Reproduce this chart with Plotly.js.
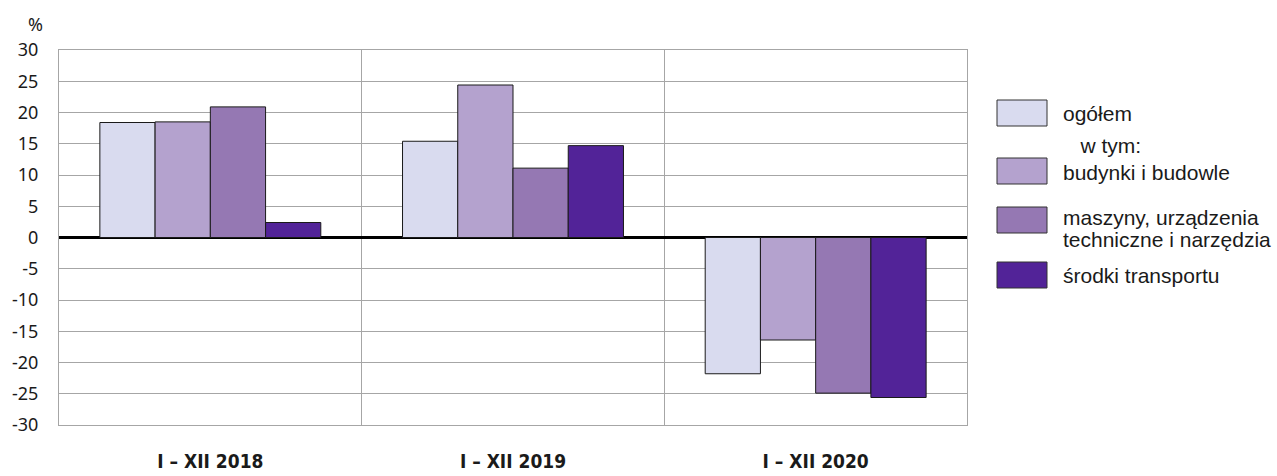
<!DOCTYPE html>
<html>
<head>
<meta charset="utf-8">
<script src="https://cdn.plot.ly/plotly-3.0.1.min.js"></script>
<style>html,body{margin:0;padding:0;background:#fff;}#chart{width:1277px;height:476px;}</style>
</head>
<body>
<div id="chart"></div>
<script>
// ---- data ----
const categories = ['I – XII 2018', 'I – XII 2019', 'I – XII 2020'];
const seriesNames = ['ogółem', 'budynki i budowle', 'maszyny, urządzenia techniczne i narzędzia', 'środki transportu'];
const ogolem   = [18.4, 15.4, -21.8];
const budynki  = [18.5, 24.4, -16.4];
const maszyny  = [20.9, 11.1, -24.9];
const srodki   = [2.4, 14.7, -25.6];
const yTickValues = [30, 25, 20, 15, 10, 5, 0, -5, -10, -15, -20, -25, -30];
const legendLines = [['ogółem', '   w tym:'], ['budynki i budowle'], ['maszyny, urządzenia', 'techniczne i narzędzia'], ['środki transportu']];
const unitLabel = '%';

// ---- styles ----
const colors = ['#D9DBEF', '#B4A2CE', '#9578B3', '#522398'];
const seriesValues = [ogolem, budynki, maszyny, srodki];

const traces = seriesValues.map((vals, i) => ({
  type: 'bar',
  name: seriesNames[i],
  x: categories,
  y: vals,
  marker: {color: colors[i], line: {color: '#1a1a1a', width: 1}},
  hoverinfo: 'x+y+name'
}));

// custom legend (large swatches) in paper coordinates
const L = 59, R = 967, T = 50, B = 425, W = R - L, H = B - T;
const px2x = p => (p - L) / W;
const py2y = p => (B - p) / H;
const boxTops = [100, 158, 207, 262];
const boxH = 26;
const shapes = [];
const annotations = [];
boxTops.forEach((t, i) => {
  shapes.push({type: 'rect', xref: 'paper', yref: 'paper',
    x0: px2x(997), x1: px2x(1047), y0: py2y(t), y1: py2y(t + boxH),
    fillcolor: colors[i], line: {color: '#333333', width: 1}});
});
const lineCenters = [[114, 145], [172], [218, 239], [275]];
legendLines.forEach((lines, i) => {
  lines.forEach((txt, j) => {
    annotations.push({xref: 'paper', yref: 'paper', x: px2x(1061), y: py2y(lineCenters[i][j]),
      xanchor: 'left', yanchor: 'middle', showarrow: false,
      text: txt.replace(/ /g, '\u00a0'),
      font: {family: 'Liberation Sans, Arial, sans-serif', size: 21, color: '#1a1a1a'}});
  });
});
annotations.push({xref: 'paper', yref: 'paper', x: px2x(35), y: py2y(24), xanchor: 'center', yanchor: 'middle',
  showarrow: false, text: unitLabel, font: {family: 'Noto Sans, sans-serif', size: 18, color: '#1a1a1a'}});

const layout = {
  width: 1277, height: 476,
  margin: {l: L, r: 1277 - R, t: T, b: 476 - B, pad: 0},
  paper_bgcolor: '#ffffff', plot_bgcolor: '#ffffff',
  showlegend: false,
  barmode: 'group',
  bargap: 0.27,
  bargroupgap: 0,
  xaxis: {
    type: 'category',
    showgrid: true, tickson: 'boundaries', gridcolor: '#a6a6a6', gridwidth: 1,
    showline: true, mirror: true, linecolor: '#a6a6a6', linewidth: 1,
    ticks: '', ticklabelstandoff: 19,
    tickfont: {family: 'Liberation Sans Narrow, DejaVu Sans Condensed, Arial Narrow, sans-serif', size: 19, color: '#1a1a1a', weight: 'bold'},
    zeroline: false, fixedrange: true
  },
  yaxis: {
    range: [-30, 30], tickvals: yTickValues, ticktext: yTickValues.map(String),
    showgrid: true, gridcolor: '#a6a6a6', gridwidth: 1,
    showline: true, mirror: true, linecolor: '#a6a6a6', linewidth: 1,
    zeroline: true, zerolinecolor: '#000000', zerolinewidth: 2.5,
    ticks: '', ticklabelstandoff: 16,
    tickfont: {family: 'Noto Sans, sans-serif', size: 18, color: '#1a1a1a'},
    fixedrange: true
  },
  shapes: shapes,
  annotations: annotations
};

Plotly.newPlot('chart', traces, layout, {displayModeBar: false, staticPlot: true});
</script>
</body>
</html>
